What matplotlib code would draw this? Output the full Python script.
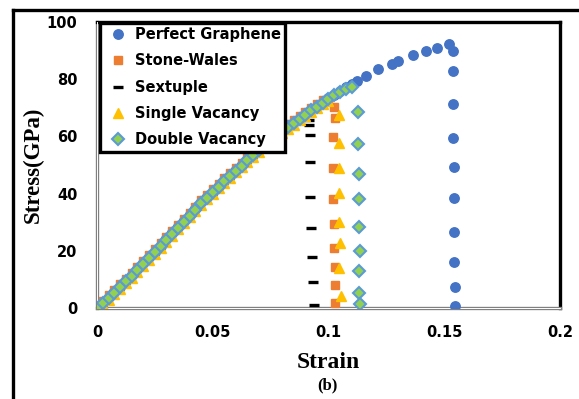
import matplotlib.pyplot as plt
from matplotlib.lines import Line2D

# strain grid for the loading part of every curve
strain_load = [0.0, 0.0025, 0.005, 0.0075, 0.01, 0.0125, 0.015, 0.0175, 0.02, 0.0225,
               0.025, 0.0275, 0.03, 0.0325, 0.035, 0.0375, 0.04, 0.0425, 0.045, 0.0475,
               0.05, 0.0525, 0.055, 0.0575, 0.06, 0.0625, 0.065, 0.0675, 0.07, 0.0725,
               0.075, 0.0775, 0.08, 0.0825, 0.085, 0.0875, 0.09, 0.0925, 0.095, 0.0975,
               0.1, 0.1025, 0.105, 0.1075, 0.11]

# Perfect Graphene
pg_load = [0.0, 1.8, 3.7, 5.6, 7.5, 9.5, 11.4, 13.5, 15.6, 17.7, 19.7, 21.8, 24.0, 26.1,
           28.3, 30.4, 32.5, 34.6, 36.9, 38.8, 40.7, 42.6, 44.5, 46.3, 48.2, 50.0, 51.9,
           53.6, 55.4, 57.0, 58.6, 60.3, 61.9, 63.5, 64.9, 66.4, 67.8, 69.3, 70.6, 72.0,
           73.3, 74.6, 75.8, 77.1, 78.3]
pg_tail_x = [0.1123, 0.1162, 0.1214, 0.1274, 0.130, 0.1365, 0.1421, 0.1469, 0.152,
             0.1538, 0.1538, 0.1538, 0.1538, 0.154, 0.154, 0.1542, 0.1544, 0.1546, 0.1546]
pg_tail_y = [79.4, 81.1, 83.6, 85.3, 86.4, 88.5, 89.9, 90.9, 92.3,
             89.9, 82.9, 71.3, 59.4, 49.3, 38.5, 26.6, 16.1, 7.3, 0.7]

# Stone-Wales
sw_load = [0.0, 2.5, 4.4, 6.4, 8.3, 10.3, 12.3, 14.3, 16.4, 18.5, 20.6, 22.6, 24.8, 26.9,
           29.1, 31.2, 33.3, 35.4, 37.6, 39.6, 41.5, 43.4, 45.3, 47.2, 49.0, 50.8, 52.7,
           54.4, 56.2, 57.8, 59.4, 61.1, 62.7, 64.3, 65.8, 67.2, 68.6, 70.0, 71.3, 72.6, 73.2]
sw_tail_x = [0.1025, 0.1027, 0.102, 0.1018, 0.102, 0.1025, 0.1025, 0.103, 0.103, 0.103]
sw_tail_y = [70.3, 66.4, 59.8, 48.9, 38.0, 29.4, 21.0, 14.3, 8.0, 1.7]

# Sextuple
sx_load = [0.0, 2.1, 4.0, 5.9, 7.8, 9.8, 11.7, 13.8, 15.9, 18.0, 20.0, 22.1, 24.3, 26.4,
           28.6, 30.7, 32.8, 34.9, 37.2, 39.1, 41.0, 42.9, 44.8, 46.6, 48.5, 50.3, 52.2,
           53.9, 55.7, 57.3, 58.9, 60.6, 62.2, 63.8, 65.2, 66.6, 67.6]
sx_tail_x = [0.0915, 0.0915, 0.0918, 0.0922, 0.0922, 0.0926, 0.093, 0.0935, 0.0938]
sx_tail_y = [65.7, 64.0, 60.5, 51.0, 38.8, 28.0, 17.8, 9.0, 1.0]

# Single Vacancy
sv_load = [0.0, 1.0, 2.9, 4.8, 6.7, 8.7, 10.6, 12.7, 14.8, 16.9, 18.9, 21.0, 23.2, 25.3,
           27.5, 29.6, 31.7, 33.8, 36.1, 38.0, 39.9, 41.8, 43.7, 45.5, 47.4, 49.2, 51.1,
           52.8, 54.6, 56.2, 57.8, 59.5, 61.1, 62.7, 64.1, 65.6, 67.0, 68.5, 69.8, 71.2, 72.3]
sv_tail_x = [0.1045, 0.1045, 0.1047, 0.1047, 0.1047, 0.105, 0.1045, 0.1052]
sv_tail_y = [67.5, 57.7, 48.9, 40.2, 30.0, 22.7, 14.0, 4.2]

# Double Vacancy
dv_load = [0.0, 1.6, 3.5, 5.4, 7.3, 9.3, 11.2, 13.3, 15.4, 17.5, 19.5, 21.6, 23.8, 25.9,
           28.1, 30.2, 32.3, 34.4, 36.7, 38.6, 40.5, 42.4, 44.3, 46.1, 48.0, 49.8, 51.7,
           53.4, 55.2, 56.8, 58.4, 60.1, 61.7, 63.3, 64.7, 66.2, 67.6, 69.1, 70.4, 71.8,
           73.1, 74.4, 75.6, 76.6, 77.3]
dv_tail_x = [0.1127, 0.1127, 0.1130, 0.1132, 0.1132, 0.1135, 0.1132, 0.1132, 0.1135]
dv_tail_y = [68.5, 57.3, 46.9, 38.0, 28.2, 20.0, 12.9, 5.2, 1.4]

x_ticks = [0, 0.05, 0.1, 0.15, 0.2]
x_labels = ['0', '0.05', '0.1', '0.15', '0.2']
y_ticks = [0, 20, 40, 60, 80, 100]

sans = 'DejaVu Sans'
serif = 'Liberation Serif'

fig = plt.figure(figsize=(5.79, 3.99), dpi=100)
ax = fig.add_axes([0.1675, 0.2281, 0.7997, 0.7168])


def series(load, tx, ty):
    n = len(load)
    return strain_load[:n] + tx, load + ty


x, y = series(pg_load, pg_tail_x, pg_tail_y)
ax.plot(x, y, 'o', ms=6.8, color='#4472C4', mec='#4472C4', label='Perfect Graphene', zorder=3)
x, y = series(sw_load, sw_tail_x, sw_tail_y)
ax.plot(x, y, 's', ms=6.0, color='#ED7D31', mec='#ED7D31', label='Stone-Wales', zorder=3)
x, y = series(sx_load, sx_tail_x, sx_tail_y)
ax.plot(x, y, '_', ms=7.5, mew=2.4, color='black', label='Sextuple', zorder=3)
x, y = series(sv_load, sv_tail_x, sv_tail_y)
ax.plot(x, y, '^', ms=6.8, color='#FFC000', mec='#FFC000', label='Single Vacancy', zorder=3)
x, y = series(dv_load, dv_tail_x, dv_tail_y)
ax.plot(x, y, 'D', ms=6.0, color='#92D050', mec='#5B9BD5', mew=1.5,
        label='Double Vacancy', zorder=3)

ax.set_xlim(0, 0.2)
ax.set_ylim(0, 100)
ax.set_xticks(x_ticks)
ax.set_xticklabels(x_labels)
ax.set_yticks(y_ticks)
ax.tick_params(length=0, labelsize=10.5)
ax.tick_params(axis='x', pad=12)
ax.tick_params(axis='y', pad=14)
for lab in ax.get_xticklabels() + ax.get_yticklabels():
    lab.set_fontfamily(sans)
    lab.set_fontweight('bold')

# left/bottom spines as grey double lines, top/right thick black
for side in ['left', 'bottom']:
    ax.spines[side].set_color('#808080')
    ax.spines[side].set_linewidth(2.4)
for side in ['top', 'right']:
    ax.spines[side].set_color('black')
    ax.spines[side].set_linewidth(2.4)
ax.plot([0, 0.2], [0, 0], color='white', lw=0.7, clip_on=False, zorder=2.6)
ax.plot([0, 0], [0, 100], color='white', lw=0.7, clip_on=False, zorder=2.6)

ax.set_xlabel('Strain', fontfamily=serif, fontweight='bold', fontsize=17, labelpad=9)
ax.set_ylabel('Stress(GPa)', fontfamily=serif, fontweight='bold', fontsize=16.5, labelpad=2)
fig.text(0.565, 0.035, '(b)', fontfamily=serif, fontweight='bold', fontsize=12,
         ha='center', va='center')

leg = ax.legend(loc='upper left', bbox_to_anchor=(0.0065, 0.997), fancybox=False,
                framealpha=1, edgecolor='black', handlelength=1.9, handletextpad=0.2,
                labelspacing=0.77, borderpad=0.3, borderaxespad=0,
                prop={'family': sans, 'weight': 'bold', 'size': 10.5})
leg.get_frame().set_linewidth(2.4)

# outer border of the panel
fig.add_artist(Line2D([13 / 579, 13 / 579], [0, 1 - 10 / 399], color='black', lw=2.4))
fig.add_artist(Line2D([13 / 579, 1], [1 - 10 / 399, 1 - 10 / 399], color='black', lw=2.4))

fig.savefig('out.png', dpi=100)
